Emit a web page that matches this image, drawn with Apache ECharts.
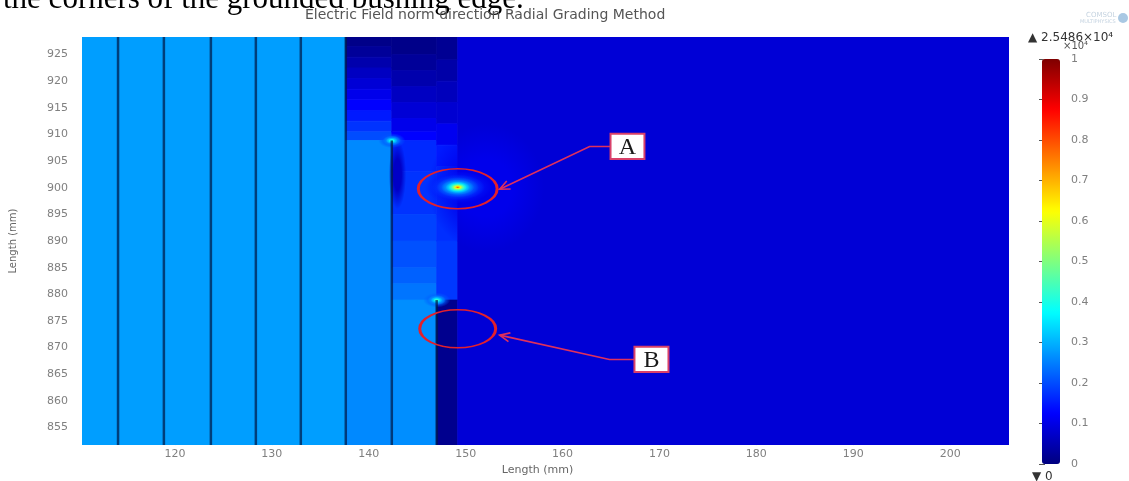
<!DOCTYPE html>
<html>
<head>
<meta charset="utf-8">
<script src="https://cdn.jsdelivr.net/npm/echarts@6/dist/echarts.min.js"></script>
<style>
html,body{margin:0;padding:0;background:#ffffff;}
#chart{width:1129px;height:481px;}
</style>
</head>
<body>
<div id="chart"></div>
<script>
// ---- tick labels ----
const xTicks = [120, 130, 140, 150, 160, 170, 180, 190, 200];
const yTicks = [855, 860, 865, 870, 875, 880, 885, 890, 895, 900, 905, 910, 915, 920, 925];
const colorTicks = [0, 0.1, 0.2, 0.3, 0.4, 0.5, 0.6, 0.7, 0.8, 0.9, 1];

// ---- field patches: [x0 (mm), x1 (mm), y0 (mm), y1 (mm), E-field norm (x10^4 V/m)] ----
const coreField = [
  [110.41, 137.63, 851.7, 928.3, 0.28]
];
const gapField = [
  [137.63, 142.38, 926.5, 928.3, 0.01],
  [137.63, 142.38, 924.5, 926.5, 0.025],
  [137.63, 142.38, 922.5, 924.5, 0.045],
  [137.63, 142.38, 920.5, 922.5, 0.065],
  [137.63, 142.38, 918.5, 920.5, 0.085],
  [137.63, 142.38, 916.5, 918.5, 0.105],
  [137.63, 142.38, 914.5, 916.5, 0.125],
  [137.63, 142.38, 912.5, 914.5, 0.15],
  [137.63, 142.38, 910.5, 912.5, 0.175],
  [137.63, 142.38, 908.85, 910.5, 0.2],
  [137.63, 142.38, 851.7, 908.85, 0.26]
];
const foilField = [
  [142.38, 147.01, 925.0, 928.3, 0.01],
  [142.38, 147.01, 922.0, 925.0, 0.025],
  [142.38, 147.01, 919.0, 922.0, 0.045],
  [142.38, 147.01, 916.0, 919.0, 0.065],
  [142.38, 147.01, 913.0, 916.0, 0.085],
  [142.38, 147.01, 910.5, 913.0, 0.105],
  [142.38, 147.01, 908.85, 910.5, 0.125],
  [142.38, 147.01, 903.0, 908.85, 0.165],
  [142.38, 147.01, 895.0, 903.0, 0.175],
  [142.38, 147.01, 890.0, 895.0, 0.19],
  [142.38, 147.01, 885.0, 890.0, 0.205],
  [142.38, 147.01, 882.0, 885.0, 0.22],
  [142.38, 147.01, 878.92, 882.0, 0.24],
  [142.38, 147.01, 851.7, 878.92, 0.265]
];
const edgeField = [
  [147.01, 149.18, 924.0, 928.3, 0.02],
  [147.01, 149.18, 920.0, 924.0, 0.04],
  [147.01, 149.18, 916.0, 920.0, 0.06],
  [147.01, 149.18, 912.0, 916.0, 0.08],
  [147.01, 149.18, 908.0, 912.0, 0.11],
  [147.01, 149.18, 904.0, 908.0, 0.15],
  [147.01, 149.18, 890.0, 904.0, 0.17],
  [147.01, 149.18, 878.92, 890.0, 0.18],
  [147.01, 149.18, 851.7, 878.92, 0.015]
];
const outerField = [
  [149.18, 206.07, 851.7, 928.3, 0.085]
];

// ---- local field peaks and shadows: [x (mm), y (mm), x radius (mm), y radius (mm), value] ----
const glowRings = [
  [152.1, 900.0, 6.0, 12.0, 0.105],
  [142.96, 902.5, 0.9, 6.5, 0.07],
  [149.18, 900.09, 3.5, 3.0, 0.15], [149.18, 900.09, 2.8, 2.4, 0.19], [149.18, 900.09, 2.2, 1.9, 0.24],
  [149.18, 900.09, 1.7, 1.45, 0.30], [149.18, 900.09, 1.25, 1.1, 0.37], [149.18, 900.09, 0.95, 0.82, 0.45],
  [149.18, 900.09, 0.68, 0.6, 0.53], [149.18, 900.09, 0.46, 0.42, 0.61], [149.18, 900.09, 0.3, 0.27, 0.69],
  [149.18, 900.09, 0.15, 0.15, 0.78],
  [142.38, 908.85, 1.4, 1.4, 0.21], [142.38, 908.85, 0.95, 0.95, 0.27], [142.38, 908.85, 0.6, 0.6, 0.33], [142.38, 908.85, 0.35, 0.35, 0.39],
  [147.01, 878.92, 1.4, 1.4, 0.22], [147.01, 878.92, 0.95, 0.95, 0.28], [147.01, 878.92, 0.6, 0.6, 0.34], [147.01, 878.92, 0.35, 0.35, 0.41]
];

// ---- grading foils: [x (mm), y bottom (mm), y top (mm)] ----
const foils = [
  [114.13, 851.7, 928.3], [118.86, 851.7, 928.3], [123.71, 851.7, 928.3],
  [128.35, 851.7, 928.3], [132.99, 851.7, 928.3], [137.63, 851.7, 928.3],
  [142.38, 851.7, 908.85], [147.01, 851.7, 878.92]
];

const calloutLabels = ['A', 'B'];

const jet = ['#00007f', '#0000ff', '#007fff', '#00ffff', '#7fff7f', '#ffff00', '#ff7f00', '#ff0000', '#7f0000'];
const FONT = 'DejaVu Sans';

const fieldData = [].concat(coreField, gapField, foilField, edgeField, outerField);

function renderCell(params, api) {
  const p0 = api.coord([api.value(0), api.value(3)]);
  const p1 = api.coord([api.value(1), api.value(2)]);
  const col = api.visual('color');
  return {
    type: 'rect',
    shape: { x: p0[0], y: p0[1], width: p1[0] - p0[0], height: p1[1] - p0[1] },
    style: { fill: col, stroke: col, lineWidth: 0.8 }
  };
}

function renderGlow(params, api) {
  const c = api.coord([api.value(0), api.value(1)]);
  const e = api.coord([api.value(0) + api.value(2), api.value(1) + api.value(3)]);
  const rx = Math.abs(e[0] - c[0]);
  const ry = Math.abs(e[1] - c[1]);
  const col = api.visual('color');
  return {
    type: 'circle',
    x: c[0], y: c[1], scaleY: ry / rx,
    shape: { cx: 0, cy: 0, r: rx },
    style: {
      fill: new echarts.graphic.RadialGradient(0.5, 0.5, 0.5, [
        { offset: 0, color: col },
        { offset: 0.45, color: col },
        { offset: 1, color: echarts.color.modifyAlpha(col, 0) }
      ])
    }
  };
}

function renderFoil(params, api) {
  const a = api.coord([api.value(0), api.value(1)]);
  const b = api.coord([api.value(0), api.value(2)]);
  return {
    type: 'line',
    shape: { x1: a[0], y1: a[1], x2: b[0], y2: b[1] },
    style: { stroke: 'rgba(0,25,70,0.72)', lineWidth: 2.5 }
  };
}

function renderRing(params, api) {
  const c = api.coord([api.value(0), api.value(1)]);
  const e = api.coord([api.value(0) + api.value(2), api.value(1) + api.value(3)]);
  const rx = Math.abs(e[0] - c[0]);
  const ry = Math.abs(e[1] - c[1]);
  return {
    type: 'circle',
    x: c[0], y: c[1], scaleY: ry / rx,
    shape: { cx: 0, cy: 0, r: rx },
    style: { fill: 'none', stroke: '#e3202c', lineWidth: 3, strokeNoScale: true }
  };
}

function renderCallout(params, api) {
  // [box x0, box x1, box y0, box y1, bend x, arrow end x, arrow end y]
  const b0 = api.coord([api.value(0), api.value(3)]);
  const b1 = api.coord([api.value(1), api.value(2)]);
  const midY = (b0[1] + b1[1]) / 2;
  const bend = [api.coord([api.value(4), 0])[0], midY];
  const end = api.coord([api.value(5), api.value(6)]);
  const dx = end[0] - bend[0], dy = end[1] - bend[1];
  const len = Math.sqrt(dx * dx + dy * dy);
  const ux = dx / len, uy = dy / len;
  const L = 10, W = 4.5;
  const h1 = [end[0] - L * ux - W * uy, end[1] - L * uy + W * ux];
  const h2 = [end[0] - L * ux + W * uy, end[1] - L * uy - W * ux];
  const lineColor = '#e0305c';
  return {
    type: 'group',
    children: [
      { type: 'polyline', shape: { points: [[b0[0], midY], bend, end] }, style: { stroke: lineColor, lineWidth: 1.6, fill: 'none' } },
      { type: 'polyline', shape: { points: [h1, end, h2] }, style: { stroke: lineColor, lineWidth: 1.6, fill: 'none' } },
      { type: 'rect', shape: { x: b0[0], y: b0[1], width: b1[0] - b0[0], height: b1[1] - b0[1] },
        style: { fill: '#ffffff', stroke: '#d8406a', lineWidth: 2 } },
      { type: 'text', x: (b0[0] + b1[0]) / 2, y: midY + 1,
        style: { text: calloutLabels[params.dataIndex], font: '24px "Liberation Serif"', fill: '#1a1a1a', align: 'center', verticalAlign: 'middle' } }
    ]
  };
}

const chart = echarts.init(document.getElementById('chart'), null, { renderer: 'canvas' });

const option = {
  backgroundColor: '#ffffff',
  animation: false,
  title: {
    text: 'Electric Field norm direction Radial Grading Method',
    left: 305, top: 8, padding: 0,
    textStyle: { fontFamily: FONT, fontSize: 14, fontWeight: 'normal', color: '#555555' }
  },
  grid: [
    { left: 82, right: 120, top: 37, bottom: 25, containLabel: false },
    { left: 1042, width: 18, top: 59, height: 405, containLabel: false }
  ],
  xAxis: [
    {
      type: 'value', gridIndex: 0, min: 110.41, max: 206.07,
      name: 'Length (mm)', nameLocation: 'middle', nameGap: 15,
      nameTextStyle: { fontFamily: FONT, fontSize: 11, color: '#666666', padding: [0, 16, 0, 0] },
      axisLine: { show: false }, splitLine: { show: false },
      axisTick: { show: true, inside: true, length: 4, customValues: xTicks, lineStyle: { color: 'rgba(190,190,190,0.8)' } },
      axisLabel: { customValues: xTicks, margin: 4, fontFamily: FONT, fontSize: 11, color: '#808080' }
    },
    { type: 'value', gridIndex: 1, min: 0, max: 1, show: false }
  ],
  yAxis: [
    {
      type: 'value', gridIndex: 0, min: 851.7, max: 928.3,
      name: 'Length (mm)', nameLocation: 'middle', nameGap: 64, nameRotate: 90,
      nameTextStyle: { fontFamily: FONT, fontSize: 10, color: '#666666' },
      axisLine: { show: false }, splitLine: { show: false },
      axisTick: { show: true, inside: true, length: 4, customValues: yTicks, lineStyle: { color: 'rgba(190,190,190,0.8)' } },
      axisLabel: { customValues: yTicks, margin: 14, fontFamily: FONT, fontSize: 11, color: '#808080' }
    },
    {
      type: 'value', gridIndex: 1, min: 0, max: 1, position: 'right',
      axisLine: { show: false }, splitLine: { show: false },
      axisTick: { show: true, inside: true, length: 3, customValues: colorTicks, lineStyle: { color: '#555555' } },
      axisLabel: { customValues: colorTicks, margin: 11, fontFamily: FONT, fontSize: 11, color: '#808080' }
    },
    {
      type: 'value', gridIndex: 1, min: 0, max: 1, position: 'left',
      axisLine: { show: false }, splitLine: { show: false },
      axisTick: { show: true, inside: true, length: 3, customValues: colorTicks, lineStyle: { color: '#555555' } },
      axisLabel: { show: false }
    }
  ],
  visualMap: {
    type: 'continuous', min: 0, max: 1, dimension: 4, seriesIndex: [0, 1],
    inRange: { color: jet },
    left: 1042, top: 59, itemWidth: 18, itemHeight: 405,
    calculable: false, hoverLink: false, padding: 0, text: null, show: true,
    textStyle: { color: 'transparent' }
  },
  graphic: [
    { type: 'text', x: 3, y: -16, silent: true,
      style: { text: 'the corners of the grounded bushing edge.', font: '31px "Liberation Serif"', fill: '#000000', verticalAlign: 'top' } },
    { type: 'text', x: 1028, y: 38, silent: true,
      style: { text: '▲ 2.5486×10⁴', font: '12px "DejaVu Sans"', fill: '#333333', verticalAlign: 'middle' } },
    { type: 'text', x: 1063, y: 46, silent: true,
      style: { text: '×10⁴', font: '10px "DejaVu Sans"', fill: '#555555', verticalAlign: 'middle' } },
    { type: 'text', x: 1032, y: 477, silent: true,
      style: { text: '▼ 0', font: '12px "DejaVu Sans"', fill: '#333333', verticalAlign: 'middle' } },
    { type: 'text', x: 1086, y: 15, silent: true,
      style: { text: 'COMSOL', font: '7px "DejaVu Sans"', fill: '#c5d3e0', verticalAlign: 'middle' } },
    { type: 'text', x: 1080, y: 22, silent: true,
      style: { text: 'MULTIPHYSICS', font: '5px "DejaVu Sans"', fill: '#c5d3e0', verticalAlign: 'middle' } },
    { type: 'circle', x: 1123, y: 18, silent: true, shape: { r: 5 }, style: { fill: '#a9c8e3' } }
  ],
  series: [
    { type: 'custom', name: 'Electric field norm', xAxisIndex: 0, yAxisIndex: 0, renderItem: renderCell, data: fieldData, clip: true, silent: true, z: 1 },
    { type: 'custom', name: 'Field peaks', xAxisIndex: 0, yAxisIndex: 0, renderItem: renderGlow, data: glowRings, clip: true, silent: true, z: 2 },
    { type: 'custom', name: 'Foils', xAxisIndex: 0, yAxisIndex: 0, renderItem: renderFoil, data: foils, clip: true, silent: true, z: 3 },
    { type: 'custom', name: 'Rings', xAxisIndex: 0, yAxisIndex: 0, renderItem: renderRing,
      data: [[149.18, 899.81, 4.07, 3.74], [149.18, 873.53, 3.92, 3.56]], silent: true, z: 4 },
    { type: 'custom', name: 'Callouts', xAxisIndex: 0, yAxisIndex: 0, renderItem: renderCallout,
      data: [[164.95, 168.45, 905.38, 910.13, 162.79, 153.51, 899.72], [167.42, 170.93, 865.4, 870.15, 164.84, 153.51, 872.34]], silent: true, z: 5 }
  ]
};

chart.setOption(option);
</script>
</body>
</html>
